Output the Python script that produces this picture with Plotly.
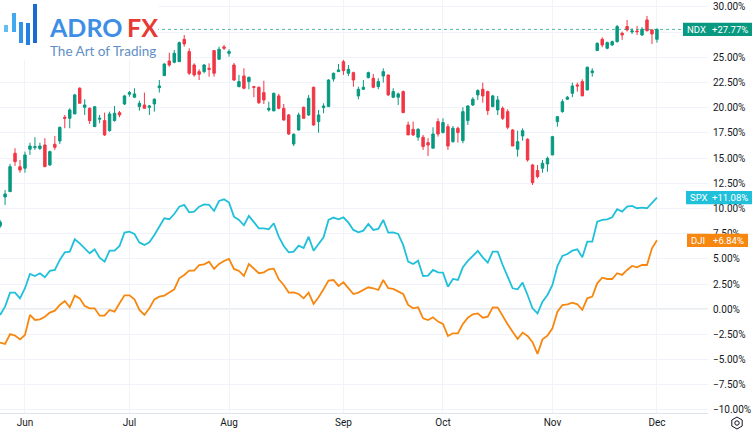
import math
import plotly.graph_objects as go

# ---------------- data (percent change, TradingView comparison) ----------------
month_labels = ["Jun", "Jul", "Aug", "Sep", "Oct", "Nov", "Dec"]
month_bar_index = [5, 26, 46, 69, 89, 111, 132]

ndx_open = [8.26, 11.14, 11.67, 15.48, 14.15, 13.99, 15.88, 16.04, 15.94, 16.30,
            14.32, 16.37, 16.70, 19.05, 18.95, 19.38, 21.93, 20.04, 19.94, 18.12,
            18.86, 18.72, 17.72, 18.72, 19.51, 20.37, 21.34, 21.04, 20.11, 20.27,
            20.04, 20.37, 21.99, 23.18, 24.64, 24.51, 24.57, 26.79, 25.57, 24.24,
            23.58, 23.58, 23.91, 25.67, 24.81, 26.03, 25.40, 24.24, 22.09, 23.15,
            22.59, 22.09, 22.03, 21.50, 19.78, 19.68, 21.17, 19.94, 19.28, 16.40,
            17.79, 20.04, 19.28, 22.03, 18.62, 20.01, 20.11, 22.85, 23.58, 24.57,
            23.42, 23.48, 21.17, 21.83, 22.98, 22.92, 22.09, 23.15, 23.25, 21.04,
            21.04, 21.60, 18.29, 17.86, 17.07, 17.07, 16.53, 15.98, 18.62, 17.53,
            18.12, 16.63, 17.96, 16.73, 18.72, 20.27, 21.27, 21.83, 21.60, 20.11,
            19.78, 19.94, 19.61, 17.79, 15.88, 17.20, 16.87, 14.32, 13.76, 13.99,
            14.42, 15.31, 18.62, 19.61, 20.84, 21.43, 22.26, 22.59, 21.76, 23.48,
            25.67, 26.79, 25.90, 26.23, 26.56, 27.39, 28.05, 27.52, 27.62, 27.22,
            28.71, 27.72, 26.79]
ndx_high = [8.86, 11.84, 14.42, 15.98, 14.81, 15.64, 16.53, 17.07, 16.53, 16.97,
            15.74, 17.20, 18.12, 19.28, 19.94, 21.37, 22.03, 20.84, 20.04, 20.17,
            19.28, 19.51, 19.61, 20.17, 19.68, 21.27, 21.66, 21.93, 20.70, 21.50,
            20.27, 20.94, 22.75, 24.41, 25.46, 25.73, 26.56, 27.22, 25.90, 24.41,
            23.82, 24.34, 24.41, 25.67, 26.06, 26.23, 25.80, 24.44, 23.25, 23.91,
            23.08, 22.16, 22.09, 22.68, 20.60, 21.50, 21.37, 20.37, 19.38, 17.46,
            19.51, 20.11, 21.27, 22.09, 19.78, 20.44, 22.82, 23.48, 24.34, 24.74,
            24.24, 23.58, 22.09, 22.75, 23.58, 23.35, 22.92, 23.91, 23.25, 21.93,
            21.50, 21.70, 18.62, 18.62, 17.96, 17.30, 16.97, 18.06, 18.95, 18.95,
            18.39, 18.19, 18.12, 20.04, 20.27, 21.04, 21.83, 22.49, 21.70, 21.27,
            21.17, 20.11, 19.84, 17.86, 17.72, 17.96, 16.97, 14.42, 14.32, 14.81,
            15.14, 17.20, 19.18, 20.84, 21.17, 22.49, 22.49, 22.82, 24.08, 23.91,
            26.46, 26.99, 26.56, 26.66, 28.21, 27.55, 28.71, 27.88, 28.12, 27.99,
            29.11, 27.79, 27.88]
ndx_low = [8.07, 10.35, 11.64, 14.22, 13.55, 13.55, 15.31, 15.81, 15.81, 14.15,
           14.22, 15.81, 16.40, 17.96, 17.96, 19.38, 20.44, 19.28, 18.39, 18.12,
           18.46, 17.20, 17.62, 18.62, 19.05, 20.27, 21.10, 21.00, 19.71, 19.94,
           19.28, 19.61, 21.50, 23.18, 24.07, 24.41, 24.57, 26.06, 23.25, 23.08,
           22.75, 23.42, 23.08, 23.08, 24.74, 25.73, 25.07, 22.65, 22.03, 21.83,
           21.83, 21.04, 20.37, 20.37, 19.61, 19.68, 19.84, 18.71, 17.30, 16.20,
           17.72, 18.95, 19.18, 18.19, 17.52, 19.45, 20.11, 22.59, 23.58, 23.25,
           23.15, 22.09, 20.84, 21.76, 22.92, 21.93, 21.83, 22.49, 21.17, 20.94,
           20.27, 19.51, 17.30, 17.20, 16.73, 15.81, 15.21, 15.98, 17.13, 17.46,
           15.81, 16.53, 16.53, 16.47, 18.29, 20.17, 20.77, 20.50, 19.28, 20.04,
           19.28, 18.78, 17.86, 16.20, 15.14, 16.73, 14.65, 12.33, 13.00, 13.55,
           13.65, 15.31, 18.12, 19.51, 20.77, 21.04, 21.60, 21.17, 21.76, 23.08,
           25.67, 26.00, 25.80, 26.13, 26.46, 26.73, 27.55, 27.32, 27.22, 27.12,
           27.55, 26.33, 26.46]
ndx_close = [8.66, 11.44, 14.15, 14.65, 13.82, 15.31, 16.20, 16.13, 16.20, 14.15,
             15.64, 16.07, 18.06, 18.95, 19.78, 21.27, 20.44, 20.27, 18.71, 20.10,
             18.95, 17.30, 19.38, 19.45, 19.28, 21.17, 21.50, 21.37, 20.44, 19.94,
             20.17, 20.84, 22.16, 24.34, 24.24, 25.40, 26.46, 26.33, 23.42, 23.25,
             23.32, 24.24, 23.82, 23.42, 25.80, 25.90, 25.57, 22.75, 22.59, 21.93,
             23.02, 22.03, 20.50, 20.77, 19.94, 21.43, 19.94, 18.78, 17.39, 17.36,
             19.28, 18.95, 20.94, 18.29, 19.28, 20.17, 22.75, 23.42, 23.75, 23.68,
             23.82, 22.75, 21.83, 22.03, 23.48, 22.03, 22.59, 23.58, 21.27, 21.60,
             21.37, 19.51, 17.30, 17.30, 17.86, 16.14, 16.30, 17.39, 17.39, 18.52,
             16.20, 17.96, 17.53, 19.61, 20.17, 20.84, 21.70, 21.17, 19.71, 21.17,
             20.77, 18.95, 18.06, 16.20, 16.63, 17.72, 14.81, 12.56, 13.16, 14.49,
             14.98, 17.13, 19.11, 20.60, 21.04, 22.16, 22.16, 21.17, 24.02, 23.65,
             26.40, 26.23, 26.46, 26.56, 28.05, 27.22, 27.72, 27.62, 27.55, 27.79,
             27.65, 27.32, 27.77]
spx = [-0.57, 0.26, 1.65, 1.65, 1.08, 2.08, 3.50, 3.30, 3.57, 3.17,
       3.80, 3.90, 4.89, 5.65, 5.72, 6.94, 6.54, 6.05, 5.55, 5.95,
       5.12, 4.72, 5.81, 5.81, 6.28, 7.60, 7.70, 7.47, 6.61, 6.38,
       6.64, 7.37, 8.20, 9.02, 8.93, 9.45, 10.18, 10.35, 9.62, 9.69,
       10.18, 10.41, 10.35, 9.75, 10.74, 10.91, 10.58, 9.19, 8.86, 8.33,
       9.26, 8.69, 8.03, 8.03, 7.93, 8.53, 7.20, 6.28, 5.65, 5.72,
       6.31, 6.08, 7.20, 5.81, 6.44, 7.14, 8.86, 9.10, 8.92, 9.12,
       8.59, 7.87, 7.63, 7.80, 8.46, 7.87, 7.97, 8.86, 7.60, 7.63,
       7.47, 6.38, 4.72, 4.49, 4.82, 3.30, 3.33, 3.90, 3.66, 3.63,
       2.24, 3.00, 2.90, 4.16, 4.79, 5.29, 5.78, 5.15, 4.62, 5.72,
       5.72, 4.39, 3.23, 2.08, 1.98, 2.64, 1.41, 0.09, -0.41, 0.75,
       1.41, 2.41, 4.29, 5.29, 5.48, 5.81, 5.95, 5.15, 6.71, 6.71,
       8.69, 8.86, 8.92, 9.12, 9.92, 9.69, 10.18, 10.25, 10.02, 10.08,
       10.02, 10.58, 11.08]
dji = [-3.32, -3.45, -2.46, -2.62, -2.99, -2.56, -0.57, -1.07, -1.00, -0.74,
       -0.34, -0.14, 0.42, 0.82, 0.19, 1.35, 1.08, 0.32, 0.09, 0.09,
       -0.64, -0.64, -0.07, -0.24, 0.59, 1.38, 1.38, 0.98, -0.07, -0.57,
       0.09, 0.98, 1.25, 1.35, 1.65, 1.98, 3.07, 3.40, 3.83, 3.83,
       4.39, 4.46, 4.72, 4.00, 4.49, 4.79, 4.99, 4.00, 3.80, 3.30,
       4.49, 4.00, 3.57, 3.66, 3.96, 4.03, 2.97, 2.41, 1.65, 1.68,
       1.51, 1.08, 1.65, 0.52, 1.18, 1.98, 2.84, 2.90, 2.31, 2.67,
       2.08, 1.51, 1.65, 1.91, 2.18, 2.08, 1.91, 2.90, 2.08, 2.01,
       1.75, 1.51, 0.42, 0.09, 0.19, -0.90, -1.07, -0.80, -1.23, -1.46,
       -2.66, -2.39, -2.39, -1.46, -0.84, -0.50, -0.41, -0.84, -0.74, 0.19,
       0.16, -0.74, -1.50, -2.23, -2.95, -2.32, -2.66, -3.28, -4.44, -2.99,
       -2.62, -1.89, -0.24, 0.42, 0.49, 0.65, 0.49, -0.07, 1.08, 1.25,
       2.57, 3.13, 3.00, 3.00, 3.57, 3.40, 3.90, 4.29, 4.16, 4.39,
       4.39, 6.05, 6.84]

y_ticks = [-10, -7.5, -5, -2.5, 0, 2.5, 5, 7.5, 10, 12.5, 15, 17.5, 20, 22.5, 25, 27.5, 30]
# the 27.50% label is hidden behind the NDX value tag in the reference
y_tick_text = ["" if v == 27.5 else ("−" if v < 0 else "") + f"{abs(v):.2f}%" for v in y_ticks]

bars = list(range(len(ndx_close)))

# ---------------- styling ----------------
W, H = 755, 435
ML, MR, MT, MB = 0, 47, 0, 22
PW, PH = W - ML - MR, H - MT - MB
UP, DOWN = "#089981", "#f23645"
SPX_C, DJI_C = "#21c0da", "#f7870f"
Y_MIN, Y_MAX = -10.30, 30.69
FONT = "Roboto"


def px(x):
    return (x - ML) / PW


def py(y):
    return 1 - (y - MT) / PH


fig = go.Figure()
fig.add_trace(go.Candlestick(
    x=bars, open=ndx_open, high=ndx_high, low=ndx_low, close=ndx_close,
    increasing=dict(line=dict(color=UP, width=1), fillcolor=UP),
    decreasing=dict(line=dict(color=DOWN, width=1), fillcolor=DOWN),
    whiskerwidth=0, hoverinfo="skip", name="NDX"))
fig.add_trace(go.Scatter(x=bars, y=spx, mode="lines", line=dict(color=SPX_C, width=1.8),
                         hoverinfo="skip", name="SPX"))
fig.add_trace(go.Scatter(x=bars, y=dji, mode="lines", line=dict(color=DJI_C, width=1.8),
                         hoverinfo="skip", name="DJI"))

shapes = []
# zero line
shapes.append(dict(type="line", xref="paper", yref="y", x0=0, x1=1, y0=0, y1=0,
                   line=dict(color="#b6b9c2", width=1), layer="below"))
# NDX last value dotted line
shapes.append(dict(type="line", xref="paper", yref="y", x0=0, x1=px(683), y0=ndx_close[-1], y1=ndx_close[-1],
                   line=dict(color="rgba(8,153,129,0.7)", width=1, dash="dot"), layer="above"))

# logo background and icon bars
shapes.append(dict(type="rect", xref="paper", yref="paper", x0=0, x1=px(158), y0=py(60), y1=1,
                   fillcolor="white", line=dict(width=0), layer="above"))
logo_bars = [(4, 8, 25, 32, "#63bdf3"), (12, 16, 13, 32, "#42a8f0"), (19, 23, 22, 43, "#2f93ea"),
             (26, 30, 23, 45, "#2480e0"), (33, 37, 4, 43, "#1a6ad2")]
for x0, x1, y0, y1, c in logo_bars:
    shapes.append(dict(type="rect", xref="paper", yref="paper", x0=px(x0), x1=px(x1), y0=py(y1), y1=py(y0),
                       fillcolor=c, line=dict(width=0), layer="above"))

# value tags on the price scale
tags = [("NDX", "+27.77%", ndx_close[-1], 683, 752, UP),
        ("SPX", "+11.08%", spx[-1], 686, 752, SPX_C),
        ("DJI", "+6.84%", dji[-1], 687, 748, DJI_C)]
half = 6.6 / (PH / (Y_MAX - Y_MIN))
annotations = []
for name, txt, val, x0, x1, c in tags:
    shapes.append(dict(type="rect", xref="paper", yref="y", x0=px(x0), x1=px(x1), y0=val - half, y1=val + half,
                       fillcolor=c, line=dict(width=0), layer="above"))
    annotations.append(dict(xref="paper", yref="y", x=px(x0 + 3), y=val, xanchor="left", yanchor="middle",
                            text=name, showarrow=False, borderpad=0,
                            font=dict(color="white", size=9.5, family=FONT)))
    annotations.append(dict(xref="paper", yref="y", x=px(x1 - 3), y=val, xanchor="right", yanchor="middle",
                            text=txt, showarrow=False, borderpad=0,
                            font=dict(color="white", size=9.5, family=FONT)))

# settings icon (hexagon)
cx, cy, r = 737, 423, 6
pts = []
for k in range(6):
    a = math.pi / 2 + k * math.pi / 3
    pts.append((px(cx + r * math.cos(a)), py(cy - r * math.sin(a))))
path = "M " + " L ".join(f"{a:.5f},{b:.5f}" for a, b in pts) + " Z"
shapes.append(dict(type="path", xref="paper", yref="paper", path=path,
                   line=dict(color="#131722", width=1), fillcolor="rgba(0,0,0,0)", layer="above"))
shapes.append(dict(type="circle", xref="paper", yref="paper", x0=px(cx - 2.2), x1=px(cx + 2.2),
                   y0=py(cy + 2.2), y1=py(cy - 2.2), line=dict(color="#131722", width=1), layer="above"))

# logo text
annotations.append(dict(xref="paper", yref="paper", x=px(48), y=py(27), xanchor="left", yanchor="middle",
                        text="<b>ADRO</b>", showarrow=False, borderpad=0,
                        font=dict(color="#3d8ee6", size=25, family="Lato")))
annotations.append(dict(xref="paper", yref="paper", x=px(126), y=py(27), xanchor="left", yanchor="middle",
                        text="<b>FX</b>", showarrow=False, borderpad=0,
                        font=dict(color="#e83a35", size=25, family="Lato")))
annotations.append(dict(xref="paper", yref="paper", x=px(48), y=py(51), xanchor="left", yanchor="middle",
                        text="The Art of Trading", showarrow=False,
                        font=dict(color="#5f8fc4", size=13.5, family="Lato")))

fig.update_layout(
    width=W, height=H, margin=dict(l=ML, r=MR, t=MT, b=MB, autoexpand=False),
    paper_bgcolor="white", plot_bgcolor="white", showlegend=False,
    shapes=shapes, annotations=annotations,
    xaxis=dict(range=[-0.02, 142.26], tickmode="array", tickvals=month_bar_index, ticktext=month_labels,
               showgrid=True, gridcolor="#f0f3fa", gridwidth=1, zeroline=False, showline=True,
               linecolor="#e0e3eb", ticks="", automargin=False,
               tickfont=dict(size=10, color="#131722", family=FONT),
               rangeslider=dict(visible=False), fixedrange=True),
    yaxis=dict(range=[Y_MIN, Y_MAX], side="right", tickmode="array", tickvals=y_ticks, ticktext=y_tick_text,
               showgrid=True, gridcolor="#f0f3fa", gridwidth=1, zeroline=False, showline=False,
               ticks="", ticklabelstandoff=4, automargin=False,
               tickfont=dict(size=10, color="#131722", family=FONT), fixedrange=True),
)

fig.write_html("out.html", config={"displayModeBar": False},
               post_script="document.body.style.margin='0';document.body.style.overflow='hidden';")
